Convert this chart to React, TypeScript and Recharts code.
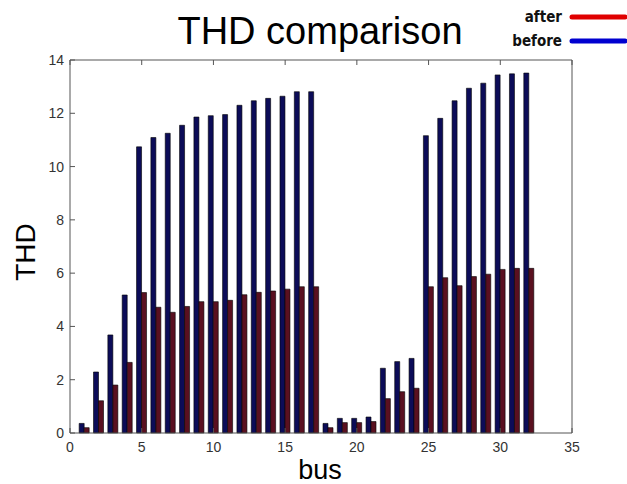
import React from "react";
import { BarChart, Bar, XAxis, YAxis } from "recharts";

const buses = [
  1, 2, 3, 4, 5, 6, 7, 8, 9, 10, 11, 12, 13, 14, 15, 16,
  17, 18, 19, 20, 21, 22, 23, 24, 25, 26, 27, 28, 29, 30, 31, 32,
];
const thdBefore = [
  0.36, 2.29, 3.68, 5.18, 10.74, 11.09, 11.25, 11.55, 11.86, 11.91, 11.95, 12.3, 12.47, 12.56, 12.64, 12.81,
  12.81, 0.36, 0.55, 0.55, 0.6, 2.43, 2.68, 2.8, 11.16, 11.81, 12.47, 12.94, 13.13, 13.44, 13.48, 13.51,
];
const thdAfter = [
  0.2, 1.21, 1.8, 2.65, 5.27, 4.72, 4.53, 4.75, 4.93, 4.93, 4.98, 5.19, 5.28, 5.33, 5.4, 5.49,
  5.49, 0.2, 0.39, 0.39, 0.43, 1.29, 1.55, 1.68, 5.49, 5.83, 5.53, 5.87, 5.96, 6.14, 6.18, 6.18,
];
const xTicks = [0, 5, 10, 15, 20, 25, 30, 35];
const yTicks = [0, 2, 4, 6, 8, 10, 12, 14];

const data = buses.map((bus, i) => ({ bus, before: thdBefore[i], after: thdAfter[i] }));

const AXIS = "#555";
const LABEL = "#333";
const FONT = "'Liberation Sans', Arial, sans-serif";
const TICK = 5;
const GAP = 8;

// ticks drawn pointing into the plot, MATLAB style
const BottomTick = (props: any) => {
  const { x, y, payload } = props;
  const y0 = y - GAP;
  return (
    <g>
      <line x1={x} x2={x} y1={y0} y2={y0 - TICK} stroke={AXIS} />
      <text x={x} y={y0 + 19} textAnchor="middle" fill={LABEL} fontSize={14} fontFamily={FONT}>
        {payload.value}
      </text>
    </g>
  );
};

const TopTick = (props: any) => {
  const { x, y } = props;
  const y0 = y + GAP;
  return <line x1={x} x2={x} y1={y0} y2={y0 + TICK} stroke={AXIS} />;
};

const LeftTick = (props: any) => {
  const { x, y, payload } = props;
  const x0 = x + GAP;
  return (
    <g>
      <line x1={x0} x2={x0 + TICK} y1={y} y2={y} stroke={AXIS} />
      <text x={x0 - 6} y={y + 5} textAnchor="end" fill={LABEL} fontSize={14} fontFamily={FONT}>
        {payload.value}
      </text>
    </g>
  );
};

const RightTick = (props: any) => {
  const { x, y } = props;
  const x0 = x - GAP;
  return <line x1={x0} x2={x0 - TICK} y1={y} y2={y} stroke={AXIS} />;
};

export default function App() {
  return (
    <div style={{ position: "absolute", left: 0, top: 0, width: 627, height: 484, background: "#fff" }}>
      <BarChart
        width={627}
        height={484}
        data={data}
        margin={{ top: 59, right: 54, bottom: 0, left: 0 }}
        barGap={0}
        barSize={5}
      >
        <XAxis
          xAxisId="bottom"
          dataKey="bus"
          type="number"
          domain={[0, 35]}
          ticks={xTicks}
          height={51}
          stroke={AXIS}
          tickLine={false}
          tickSize={0}
          tickMargin={GAP}
          tick={<BottomTick />}
          allowDecimals={false}
        />
        <XAxis
          xAxisId="top"
          orientation="top"
          dataKey="bus"
          type="number"
          domain={[0, 35]}
          ticks={xTicks}
          height={1}
          stroke={AXIS}
          tickLine={false}
          tickSize={0}
          tickMargin={GAP}
          tick={<TopTick />}
        />
        <YAxis
          yAxisId="left"
          domain={[0, 14]}
          ticks={yTicks}
          width={70}
          stroke={AXIS}
          tickLine={false}
          tickSize={0}
          tickMargin={GAP}
          tick={<LeftTick />}
        />
        <YAxis
          yAxisId="right"
          orientation="right"
          domain={[0, 14]}
          ticks={yTicks}
          width={1}
          stroke={AXIS}
          tickLine={false}
          tickSize={0}
          tickMargin={GAP}
          tick={<RightTick />}
        />
        <Bar
          dataKey="before"
          xAxisId="bottom"
          yAxisId="left"
          fill="#0c0c58"
          stroke="#000"
          strokeWidth={0.6}
          isAnimationActive={false}
        />
        <Bar
          dataKey="after"
          xAxisId="bottom"
          yAxisId="left"
          fill="#5a1020"
          stroke="#000"
          strokeWidth={0.6}
          isAnimationActive={false}
        />
      </BarChart>
      <svg
        width={627}
        height={484}
        style={{ position: "absolute", left: 0, top: 0, pointerEvents: "none" }}
        fontFamily={FONT}
      >
        <text x={320} y={44} textAnchor="middle" fontSize={38} fill="#000">
          THD comparison
        </text>
        <text
          x={562}
          y={22}
          textAnchor="end"
          fontSize={15}
          fontWeight="bold"
          fontFamily="'Liberation Sans Narrow', 'DejaVu Sans Condensed', sans-serif"
          fill="#111"
        >
          after
        </text>
        <line x1={572} x2={625} y1={17} y2={17} stroke="#e00000" strokeWidth={5} strokeLinecap="round" />
        <text
          x={562}
          y={46}
          textAnchor="end"
          fontSize={15}
          fontWeight="bold"
          fontFamily="'Liberation Sans Narrow', 'DejaVu Sans Condensed', sans-serif"
          fill="#111"
        >
          before
        </text>
        <line x1={572} x2={625} y1={41} y2={41} stroke="#0000d0" strokeWidth={5} strokeLinecap="round" />
        <text x={320} y={479} textAnchor="middle" fontSize={27} fill="#000">
          bus
        </text>
        <text
          x={0}
          y={0}
          transform="translate(35 252) rotate(-90)"
          textAnchor="middle"
          fontSize={28}
          fill="#000"
        >
          THD
        </text>
      </svg>
    </div>
  );
}
